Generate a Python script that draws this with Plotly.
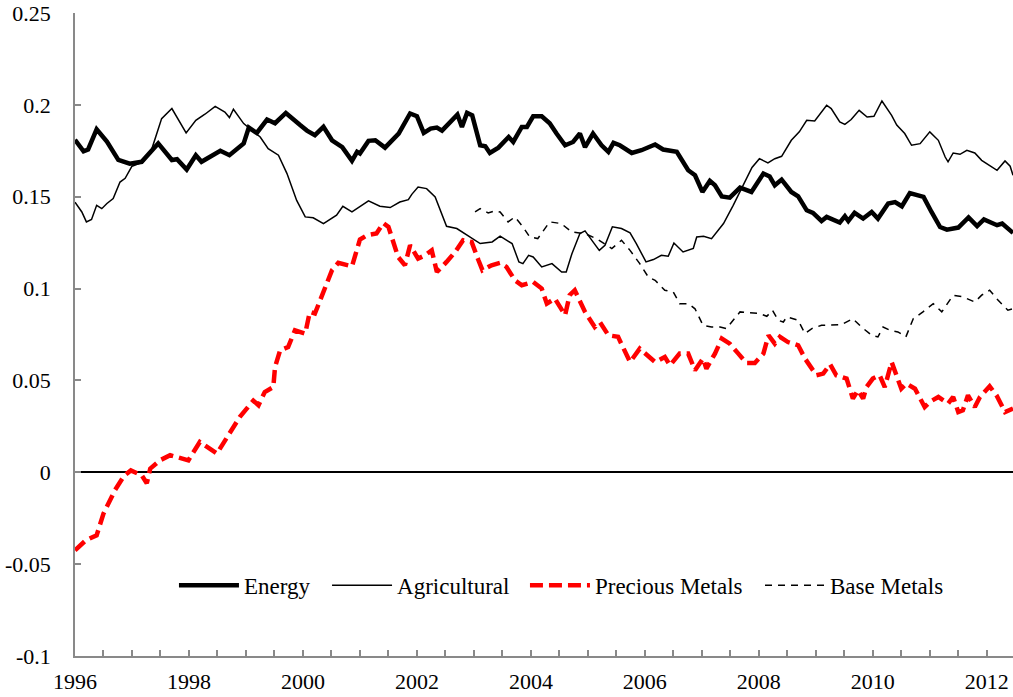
import plotly.graph_objects as go

# Energy (thick solid black)
energy_yr = [1996.00, 1996.15, 1996.23, 1996.38, 1996.56, 1996.76, 1996.96, 1997.17, 1997.46, 1997.70,
             1997.79, 1997.96, 1998.12, 1998.22, 1998.55, 1998.71, 1998.96, 1999.05, 1999.19, 1999.37,
             1999.51, 1999.70, 1999.95, 2000.07, 2000.21, 2000.36, 2000.51, 2000.69, 2000.86, 2000.95,
             2001.00, 2001.15, 2001.27, 2001.44, 2001.68, 2001.88, 2002.00, 2002.12, 2002.24, 2002.35,
             2002.44, 2002.71, 2002.79, 2002.88, 2002.97, 2003.11, 2003.20, 2003.28, 2003.43, 2003.61,
             2003.69, 2003.84, 2003.93, 2004.04, 2004.19, 2004.33, 2004.45, 2004.60, 2004.74, 2004.86,
             2004.95, 2005.09, 2005.24, 2005.36, 2005.45, 2005.56, 2005.77, 2005.94, 2006.18, 2006.32,
             2006.56, 2006.76, 2006.88, 2007.01, 2007.14, 2007.23, 2007.35, 2007.49, 2007.67, 2007.87,
             2008.08, 2008.19, 2008.28, 2008.40, 2008.57, 2008.69, 2008.84, 2008.95, 2009.10, 2009.19,
             2009.42, 2009.51, 2009.57, 2009.68, 2009.83, 2009.98, 2010.09, 2010.27, 2010.39, 2010.51,
             2010.65, 2010.89, 2011.03, 2011.18, 2011.30, 2011.50, 2011.68, 2011.83, 2011.95, 2012.07,
             2012.18, 2012.27, 2012.36, 2012.46]
energy = [0.181, 0.1747, 0.1757, 0.1867, 0.180, 0.170, 0.168, 0.169, 0.179, 0.170,
          0.1704, 0.1648, 0.1726, 0.169, 0.175, 0.1726, 0.179, 0.1876, 0.1847, 0.192,
          0.190, 0.1956, 0.189, 0.186, 0.1835, 0.188, 0.1807, 0.177, 0.1695, 0.1744,
          0.1735, 0.1804, 0.1807, 0.1767, 0.1844, 0.1953, 0.1938, 0.1847, 0.1871, 0.1876,
          0.186, 0.1947, 0.188, 0.1956, 0.1943, 0.178, 0.1775, 0.1738, 0.1767, 0.1825,
          0.1798, 0.188, 0.188, 0.1938, 0.1938, 0.190, 0.1844, 0.178, 0.1798, 0.1844,
          0.177, 0.1844, 0.178, 0.1744, 0.1793, 0.178, 0.1738, 0.1753, 0.1784, 0.1757,
          0.1744, 0.1644, 0.1617, 0.1526, 0.1586, 0.1562, 0.1502, 0.1495, 0.155, 0.1526,
          0.1626, 0.161, 0.1562, 0.1593, 0.1526, 0.1502, 0.1426, 0.1412, 0.1368, 0.139,
          0.1359, 0.1394, 0.1368, 0.1412, 0.1381, 0.1417, 0.1381, 0.1463, 0.1471, 0.1448,
          0.152, 0.1499, 0.1417, 0.1335, 0.1321, 0.1332, 0.1387, 0.134, 0.1376, 0.1363,
          0.1345, 0.1354, 0.1327, 0.1303]

# Agricultural (thin solid black)
agri_yr = [1996.00, 1996.12, 1996.20, 1996.29, 1996.38, 1996.47, 1996.56, 1996.67, 1996.79, 1996.88,
           1997.00, 1997.20, 1997.35, 1997.52, 1997.70, 1997.95, 1998.12, 1998.28, 1998.46, 1998.63,
           1998.71, 1998.78, 1998.96, 1999.25, 1999.39, 1999.57, 1999.72, 1999.89, 2000.04, 2000.18,
           2000.36, 2000.51, 2000.59, 2000.70, 2000.86, 2001.15, 2001.35, 2001.53, 2001.70, 2001.85,
           2001.91, 2002.02, 2002.17, 2002.32, 2002.52, 2002.70, 2002.94, 2003.11, 2003.32, 2003.46,
           2003.67, 2003.79, 2003.86, 2003.96, 2004.04, 2004.19, 2004.37, 2004.54, 2004.62, 2004.72,
           2004.86, 2004.95, 2005.09, 2005.20, 2005.30, 2005.43, 2005.59, 2005.74, 2005.85, 2006.02,
           2006.15, 2006.29, 2006.41, 2006.51, 2006.67, 2006.85, 2006.91, 2007.03, 2007.17, 2007.38,
           2007.55, 2007.73, 2007.88, 2008.01, 2008.16, 2008.28, 2008.40, 2008.57, 2008.71, 2008.84,
           2008.98, 2009.19, 2009.27, 2009.42, 2009.51, 2009.62, 2009.76, 2009.90, 2010.02, 2010.16,
           2010.33, 2010.42, 2010.56, 2010.68, 2010.83, 2011.00, 2011.15, 2011.27, 2011.32, 2011.41,
           2011.53, 2011.65, 2011.79, 2011.91, 2012.05, 2012.18, 2012.32, 2012.41, 2012.46]
agri = [0.147, 0.1417, 0.1363, 0.1376, 0.1453, 0.1435, 0.1463, 0.149, 0.158, 0.160,
        0.1666, 0.169, 0.1762, 0.1925, 0.198, 0.1847, 0.1916, 0.1949, 0.1992, 0.1961,
        0.1931, 0.1976, 0.1898, 0.1825, 0.1762, 0.1726, 0.1626, 0.148, 0.139, 0.1385,
        0.1353, 0.1381, 0.140, 0.1448, 0.1417, 0.1477, 0.1448, 0.1441, 0.1471, 0.1484,
        0.1513, 0.1553, 0.1544, 0.1499, 0.1339, 0.1327, 0.1281, 0.1245, 0.1254, 0.1285,
        0.1245, 0.1145, 0.1136, 0.1181, 0.1172, 0.1118, 0.1136, 0.109, 0.109, 0.119,
        0.130, 0.1314, 0.1254, 0.1208, 0.1236, 0.1336, 0.1327, 0.1303, 0.1245, 0.1145,
        0.1158, 0.1181, 0.1176, 0.1248, 0.1199, 0.1218, 0.1281, 0.1285, 0.1272, 0.1354,
        0.1453, 0.1562, 0.1659, 0.1707, 0.1684, 0.1707, 0.172, 0.1807, 0.1853, 0.1916,
        0.1912, 0.1998, 0.198, 0.1907, 0.1894, 0.192, 0.197, 0.1934, 0.1938, 0.2021,
        0.1943, 0.189, 0.1844, 0.178, 0.1789, 0.1853, 0.1807, 0.1716, 0.169, 0.1738,
        0.1731, 0.1753, 0.1738, 0.1698, 0.1671, 0.1644, 0.1695, 0.1666, 0.1617]

# Precious Metals (thick red dashed)
prec_yr = [1996.00, 1996.19, 1996.38, 1996.50, 1996.70, 1996.86, 1996.98, 1997.17, 1997.26, 1997.32,
           1997.49, 1997.67, 1997.99, 1998.19, 1998.49, 1998.72, 1998.89, 1999.13, 1999.22, 1999.33,
           1999.48, 1999.51, 1999.60, 1999.74, 1999.86, 2000.04, 2000.12, 2000.21, 2000.36, 2000.51,
           2000.62, 2000.86, 2001.00, 2001.12, 2001.29, 2001.41, 2001.50, 2001.67, 2001.79, 2001.88,
           2002.02, 2002.14, 2002.26, 2002.35, 2002.52, 2002.67, 2002.81, 2002.96, 2003.08, 2003.15,
           2003.31, 2003.46, 2003.57, 2003.72, 2003.84, 2004.04, 2004.19, 2004.28, 2004.42, 2004.60,
           2004.68, 2004.77, 2004.95, 2005.12, 2005.21, 2005.36, 2005.53, 2005.74, 2005.91, 2006.18,
           2006.35, 2006.44, 2006.61, 2006.76, 2006.88, 2007.02, 2007.08, 2007.23, 2007.35, 2007.49,
           2007.64, 2007.78, 2007.93, 2008.08, 2008.17, 2008.28, 2008.37, 2008.51, 2008.69, 2008.81,
           2009.01, 2009.13, 2009.25, 2009.36, 2009.54, 2009.65, 2009.74, 2009.83, 2009.89, 2010.00,
           2010.12, 2010.21, 2010.33, 2010.42, 2010.50, 2010.59, 2010.74, 2010.91, 2011.00, 2011.15,
           2011.32, 2011.41, 2011.50, 2011.58, 2011.67, 2011.79, 2011.88, 2012.05, 2012.17, 2012.32,
           2012.46]
prec = [-0.0425, -0.037, -0.0343, -0.0225, -0.0098, -0.002, 0.001, -0.0016, -0.006, 0.002,
        0.0065, 0.0093, 0.0065, 0.0165, 0.0102, 0.021, 0.030, 0.039, 0.0365, 0.0437,
        0.0464, 0.0573, 0.0664, 0.0682, 0.0773, 0.0755, 0.0873, 0.0864, 0.099, 0.110,
        0.114, 0.1121, 0.1267, 0.129, 0.130, 0.1357, 0.1336, 0.1172, 0.1127, 0.1236,
        0.1163, 0.1181, 0.1208, 0.109, 0.1145, 0.1199, 0.1263, 0.1254, 0.1154, 0.110,
        0.1127, 0.114, 0.1118, 0.1045, 0.1018, 0.1036, 0.100, 0.0918, 0.0946, 0.0855,
        0.0964, 0.0991, 0.0873, 0.0791, 0.0818, 0.0746, 0.0737, 0.060, 0.0673, 0.060,
        0.0628, 0.0582, 0.0646, 0.0646, 0.0555, 0.0619, 0.0564, 0.0646, 0.0728, 0.070,
        0.0646, 0.0595, 0.0595, 0.0646, 0.0746, 0.070, 0.0737, 0.0709, 0.0691, 0.0619,
        0.0528, 0.0537, 0.0588, 0.0528, 0.051, 0.0401, 0.0446, 0.0401, 0.0464, 0.051,
        0.0528, 0.0464, 0.060, 0.0519, 0.0455, 0.0483, 0.0455, 0.0355, 0.0383, 0.041,
        0.0374, 0.041, 0.0328, 0.0337, 0.0419, 0.0355, 0.041, 0.0468, 0.0419, 0.0328,
        0.0347]

# Base Metals (thin black dashed), starts 2003
base_yr = [2003.02, 2003.11, 2003.25, 2003.37, 2003.46, 2003.60, 2003.72, 2003.86, 2003.98, 2004.12,
           2004.33, 2004.53, 2004.72, 2004.95, 2005.15, 2005.42, 2005.59, 2005.74, 2005.91, 2006.06,
           2006.18, 2006.35, 2006.50, 2006.61, 2006.76, 2006.88, 2007.02, 2007.17, 2007.32, 2007.43,
           2007.67, 2007.87, 2008.02, 2008.14, 2008.24, 2008.34, 2008.43, 2008.49, 2008.60, 2008.69,
           2008.81, 2008.93, 2009.10, 2009.28, 2009.45, 2009.65, 2009.80, 2009.98, 2010.09, 2010.18,
           2010.30, 2010.44, 2010.58, 2010.71, 2010.88, 2011.06, 2011.21, 2011.41, 2011.58, 2011.79,
           2011.91, 2012.05, 2012.20, 2012.37, 2012.46]
base = [0.1417, 0.1435, 0.1412, 0.1423, 0.1417, 0.1363, 0.139, 0.1336, 0.1281, 0.1272,
        0.1363, 0.1354, 0.1308, 0.1299, 0.1272, 0.1218, 0.1263, 0.1208, 0.1136, 0.1063,
        0.1045, 0.0991, 0.0981, 0.0918, 0.0918, 0.089, 0.080, 0.0791, 0.0791, 0.0782,
        0.0873, 0.0867, 0.0864, 0.0849, 0.0882, 0.0827, 0.0818, 0.0846, 0.0836, 0.0827,
        0.0755, 0.0782, 0.080, 0.080, 0.0804, 0.0836, 0.0791, 0.0746, 0.0737, 0.0791,
        0.0773, 0.0764, 0.0737, 0.0836, 0.0873, 0.0918, 0.0873, 0.0964, 0.0955, 0.0927,
        0.0964, 0.0991, 0.0936, 0.0882, 0.0891]

year_ticks = list(range(1996, 2013, 2))
y_ticks = [-0.1, -0.05, 0, 0.05, 0.1, 0.15, 0.2, 0.25]
y_labels = ['-0.1', '-0.05', '0', '0.05', '0.1', '0.15', '0.2', '0.25']

font = 'Liberation Serif'
axis_grey = '#898989'

fig = go.Figure()
fig.add_trace(go.Scatter(x=energy_yr, y=energy, mode='lines', name='Energy', legend='legend',
                         line=dict(color='black', width=4.5)))
fig.add_trace(go.Scatter(x=agri_yr, y=agri, mode='lines', name='Agricultural', legend='legend2',
                         line=dict(color='black', width=1.5)))
fig.add_trace(go.Scatter(x=prec_yr, y=prec, mode='lines', name='Precious Metals', legend='legend3',
                         line=dict(color='#ff0000', width=4.5, dash='13px,6px')))
fig.add_trace(go.Scatter(x=base_yr, y=base, mode='lines', name='Base Metals', legend='legend4',
                         line=dict(color='black', width=1.5, dash='7px,6px')))

# one legend box per series so each entry sits where the reference has it
leg = dict(orientation='h', y=0.11, xanchor='left', yanchor='middle',
           bgcolor='rgba(0,0,0,0)', itemwidth=60, font=dict(family=font, size=23))

fig.update_layout(
    width=1013, height=697,
    margin=dict(l=75, r=0, t=13, b=41),
    paper_bgcolor='white', plot_bgcolor='white',
    font=dict(family=font, size=22, color='black'),
    showlegend=True,
    legend=dict(leg, x=0.1055),
    legend2=dict(leg, x=0.2687),
    legend3=dict(leg, x=0.4797),
    legend4=dict(leg, x=0.7303),
    xaxis=dict(range=[1996, 2012.46], tickvals=year_ticks, showgrid=False,
               showline=True, linecolor=axis_grey, linewidth=1.5,
               ticks='inside', ticklen=6, tickcolor=axis_grey, tickwidth=1.5,
               minor=dict(dtick=0.5, tick0=1996, ticks='inside', ticklen=6,
                          tickcolor=axis_grey, tickwidth=1.5, showgrid=False),
               zeroline=False, ticklabelstandoff=5,
               tickfont=dict(family=font, size=22)),
    yaxis=dict(range=[-0.1, 0.25], tickvals=y_ticks, ticktext=y_labels, showgrid=False,
               showline=True, linecolor=axis_grey, linewidth=1.5,
               ticks='inside', ticklen=6, tickcolor=axis_grey, tickwidth=1.5,
               zeroline=True, zerolinecolor='black', zerolinewidth=2,
               ticklabelstandoff=18, tickfont=dict(family=font, size=22)),
)

# drop the default 8px body margin so the figure fills the window exactly
fig.write_html("out.html", config={'displayModeBar': False},
               post_script="document.body.style.margin='0';")
